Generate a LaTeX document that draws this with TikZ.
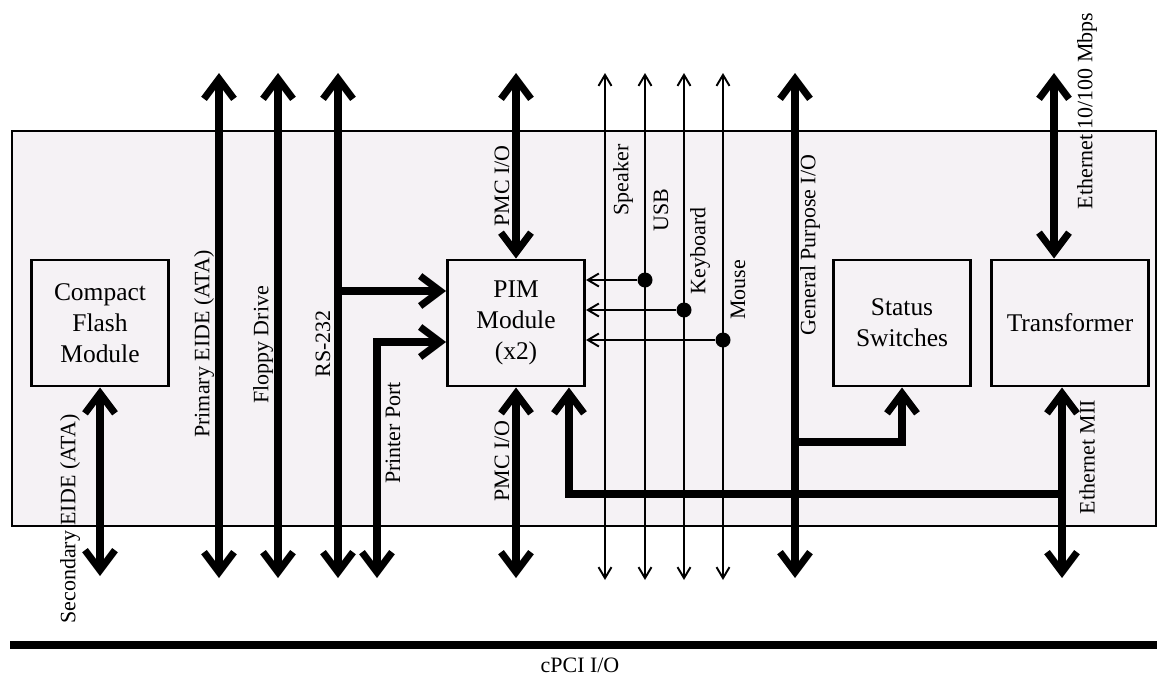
\documentclass[tikz,border=0pt]{standalone}
\usepackage{fontspec}
\setmainfont{Liberation Serif}
\usetikzlibrary{positioning, arrows.meta, calc}
\definecolor{boardfill}{RGB}{245,242,245}
\newcommand{\boxfont}{\fontsize{14.5}{17.6}\selectfont}
\newcommand{\sigfont}{\fontsize{12.5}{15}\selectfont}

\begin{document}
\begin{tikzpicture}[
    x=0.2mm, y=-0.2mm,
    box/.style={rectangle, draw=black, line width=1.7pt, minimum width=#1, minimum height=2.52cm, align=center, font=\boxfont, inner sep=1pt},
    box/.default=2.74cm,
    bus/.style={{Straight Barb[length=4mm, width=6mm]}-{Straight Barb[length=4mm, width=6mm]}, line width=4pt},
    busin/.style={-{Straight Barb[length=4mm, width=6mm]}, line width=4pt},
    wire/.style={{Straight Barb[length=2.2mm, width=2.6mm]}-{Straight Barb[length=2.2mm, width=2.6mm]}, line width=1.1pt},
    wirein/.style={-{Straight Barb[length=2.2mm, width=2.6mm]}, line width=1.1pt},
    junction/.style={circle, fill=black, inner sep=0pt, minimum size=3mm},
    sig/.style={rotate=90, font=\sigfont, inner sep=0pt},
]

% Page and board outline
\path[use as bounding box, fill=white] (0,0) rectangle (1157,679);
\draw[fill=boardfill, line width=1.4pt] (12,131) rectangle (1156,526);

% Modules on the board
\node[box] (cf) at (100,323) {Compact\\Flash\\Module};
\node[box] (pim) at (516,323) {PIM\\Module\\(x2)};
\node[box] (status) at (902,323) {Status\\Switches};
\node[box=3.14cm] (trans) at (1070,323) {Transformer};

% Bus end points (top and bottom of the board area)
\coordinate (secB) at (100,576);
\coordinate (priT) at (219,73);
\coordinate (priB) at (219,578);
\coordinate (fddT) at (278,73);
\coordinate (fddB) at (278,578);
\coordinate (rsT) at (338,73);
\coordinate (rsB) at (338,578);
\coordinate (rsJ) at (338,291);
\coordinate (prtB) at (377,578);
\coordinate (prtJ) at (377,342);
\coordinate (pmcT) at (516,73);
\coordinate (pmcB) at (516,578);
\coordinate (gpT) at (795,73);
\coordinate (gpB) at (795,578);
\coordinate (gpJ) at (795,442);
\coordinate (ethT) at (1054,73);
\coordinate (miiB) at (1062,578);
\coordinate (miiJ) at (1062,494);

% Thick buses
\draw[bus] (cf.south) -- (secB);
\draw[bus] (priT) -- (priB);
\draw[bus] (fddT) -- (fddB);
\draw[bus] (rsT) -- (rsB);
\draw[busin] (rsJ) -- (rsJ -| pim.west);
\draw[bus] (prtB) -- (prtJ) -- (prtJ -| pim.west);
\draw[bus] (pmcT) -- (pim.north);
\draw[bus] (pim.south) -- (pmcB);
\draw[bus] (gpT) -- (gpB);
\draw[busin] (gpJ) -| (status.south);
\draw[bus] (ethT) -- (ethT |- trans.north);
\draw[bus] (miiB) -- (miiB |- trans.south);
\draw[busin] (miiJ) -| ([xshift=-3.4mm]pim.south east);

% Thin signal lines
\coordinate (spkT) at (605,73);
\coordinate (spkB) at (605,580);
\coordinate (usbT) at (645,73);
\coordinate (usbB) at (645,580);
\coordinate (kbdT) at (684,73);
\coordinate (kbdB) at (684,580);
\coordinate (mseT) at (723,73);
\coordinate (mseB) at (723,580);
\draw[wire] (spkT) -- (spkB);
\draw[wire] (usbT) -- (usbB);
\draw[wire] (kbdT) -- (kbdB);
\draw[wire] (mseT) -- (mseB);

% Taps into the PIM module
\node[junction] (usbJ) at (645,280) {};
\node[junction] (kbdJ) at (684,310) {};
\node[junction] (mseJ) at (723,340) {};
\draw[wirein] (usbJ) -- (usbJ -| pim.east);
\draw[wirein] (kbdJ) -- (kbdJ -| pim.east);
\draw[wirein] (mseJ) -- (mseJ -| pim.east);

% Signal names
\node[sig] (secL) at (70,519) {Secondary EIDE (ATA)};
\node[sig] (priL) at (204,344) {Primary EIDE (ATA)};
\node[sig] (fddL) at (263,345) {Floppy Drive};
\node[sig] (rsL) at (323,344) {RS-232};
\node[sig] (prtL) at (393,433) {Printer Port};
\node[sig] (pmcTL) at (502,186) {PMC I/O};
\node[sig] (pmcBL) at (502,461) {PMC I/O};
\node[sig] (spkL) at (623,180) {Speaker};
\node[sig] (usbL) at (661,210) {USB};
\node[sig] (kbdL) at (700,251) {Keyboard};
\node[sig] (mseL) at (738,290) {Mouse};
\node[sig] (gpL) at (810,245) {General Purpose I/O};
\node[sig] (ethL) at (1087,111) {Ethernet 10/100 Mbps};
\node[sig] (miiL) at (1087,457) {Ethernet MII};

% cPCI connector
\coordinate (cpciL) at (10,645);
\coordinate (cpciR) at (1157,645);
\draw[line width=4.5pt] (cpciL) -- (cpciR);
\node[font=\sigfont] (cpciT) at (580,665) {cPCI I/O};

\end{tikzpicture}
\end{document}
